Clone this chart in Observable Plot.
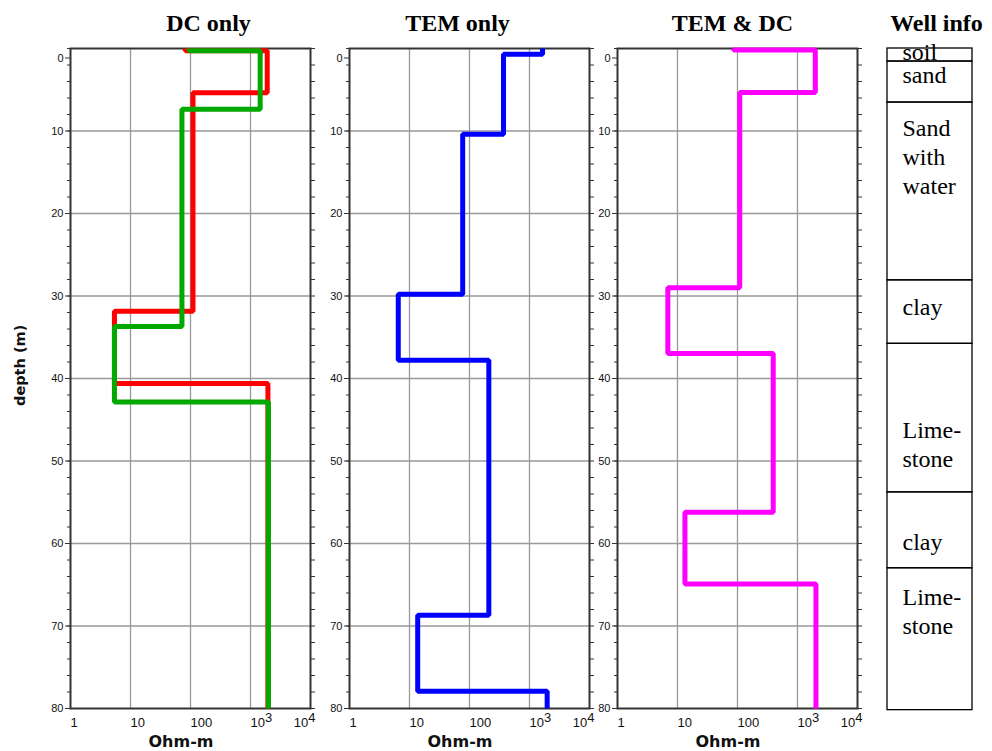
<!DOCTYPE html>
<html><head><meta charset="utf-8">
<script src="https://cdn.jsdelivr.net/npm/d3@7"></script>
<script src="https://cdn.jsdelivr.net/npm/@observablehq/plot@0.6"></script>
<style>
body{margin:0;background:#fff;}
#wrap{position:relative;width:992px;height:751px;overflow:hidden;background:#fff;}
.panel{position:absolute;top:0;}
</style></head><body><div id="wrap"></div>
<script>
// ---------- data ----------
const depthMax = 80;
// DC only – red model (resistivity per layer, Ohm-m; bottom depth of each layer, m)
const dcRedRho = [82, 1900, 110, 5.4, 1950];
const dcRedBottom = [0.27, 5.35, 31.85, 40.6];
// DC only – green model
const dcGreenRho = [95, 1450, 72, 5.4, 1990];
const dcGreenBottom = [0.27, 7.37, 33.7, 42.85];
// TEM only
const temRho = [1650, 369, 77, 6.5, 210, 13.7, 1970];
const temBottom = [0.69, 10.4, 29.8, 37.8, 68.7, 77.9];
// TEM & DC
const jointRho = [86, 1980, 109, 6.9, 394, 13.3, 2030];
const jointBottom = [0.18, 5.33, 29.0, 36.97, 56.2, 64.9];
// Well info
const wellNames = ["soil", "sand", "Sand\nwith\nwater", "clay", "Lime-\nstone", "clay", "Lime-\nstone"];
const wellBottom = [1.58, 6.55, 28.1, 35.8, 53.8, 63.0, 80.2];
const wellLabelDepth = [1.45, 4.24, 17.58, 32.36, 50.67, 60.73, 70.91];
// ticks
const xTicks = [1, 10, 100, 1000, 10000];
const xTickLabels = ["1", "10", "100", "10^3", "10^4"];
const xGrid = [10, 100, 1000];
const yLabelTicks = [10, 20, 30, 40, 50, 60, 70, 80];
const yGrid = [10, 20, 30, 40, 50, 60, 70];
const yMinor = d3.range(0, 81, 2);
const titles = ["DC only", "TEM only", "TEM & DC", "Well info"];

// ---------- helpers ----------
function steps(rho, bottoms) {
  const pts = [];
  let top = 0;
  rho.forEach((r, i) => {
    const b = i < bottoms.length ? bottoms[i] : depthMax;
    pts.push({rho: r, depth: top}, {rho: r, depth: b});
    top = b;
  });
  return pts;
}
const wrap = document.getElementById("wrap");
const H = 751, MT = 48, MB = 43;
const baseStyle = {background: "transparent", overflow: "visible", fontFamily: "Liberation Sans", color: "#111"};

function fixSuperscripts(svg) {
  svg.querySelectorAll("text").forEach(t => {
    const s = t.textContent;
    if (s.includes("^")) {
      const [b, e] = s.split("^");
      t.textContent = b;
      const ts = document.createElementNS("http://www.w3.org/2000/svg", "tspan");
      ts.setAttribute("dy", "-5");
      ts.textContent = e;
      t.appendChild(ts);
      if (e === "4") { t.setAttribute("text-anchor", "end"); t.setAttribute("dx", "5"); }
    }
  });
}

function panel(left, series, title, titleDx, withDepthLabel) {
  const marks = [
    Plot.gridX({ticks: xGrid, stroke: "#999", strokeOpacity: 1, strokeWidth: 1.3}),
    Plot.gridY({ticks: yGrid, stroke: "#999", strokeOpacity: 1, strokeWidth: 1.3}),
    Plot.axisX({ticks: xTicks, tickSize: 0, tickPadding: 9, textAnchor: "start", fontSize: 13, label: null,
      tickFormat: d => xTickLabels[xTicks.indexOf(d)]}),
    Plot.axisY({ticks: yLabelTicks, tickSize: 5, tickPadding: 2, fontSize: 11, label: null, stroke: "#333"}),
    Plot.axisY({ticks: [0], tickSize: 5, tickPadding: 2, fontSize: 11, dy: 9.5, label: null, stroke: "#333"}),
    Plot.axisY({ticks: yMinor, tickSize: 3, tickFormat: () => "", label: null, stroke: "#333"}),
    Plot.axisY({anchor: "right", ticks: yMinor, tickSize: 4, tickFormat: () => "", label: null, stroke: "#333"}),
    Plot.frame({stroke: "#333", strokeWidth: 2}),
    ...series.map(s => Plot.line(steps(s.rho, s.bottom), {x: "rho", y: "depth", stroke: s.color, strokeWidth: 5,
      strokeLinejoin: "miter", strokeLinecap: "butt"})),
    Plot.text([title], {frameAnchor: "top", dy: -18, dx: titleDx, lineAnchor: "bottom",
      fontFamily: "Liberation Serif", fontWeight: "bold", fontSize: 24, fill: "#000"}),
    Plot.text(["Ohm-m"], {frameAnchor: "bottom", dy: 38.7, dx: -9.5, lineAnchor: "bottom",
      fontFamily: "DejaVu Sans", fontWeight: "bold", fontSize: 16, fill: "#111"})
  ];
  if (withDepthLabel) {
    marks.push(Plot.text(["depth (m)"], {frameAnchor: "left", dx: -50, dy: 27.5, rotate: -90,
      fontFamily: "DejaVu Sans", fontWeight: "bold", fontSize: 14.5, fill: "#111"}));
  }
  const chart = Plot.plot({
    width: 330, height: H, marginLeft: 70, marginRight: 20, marginTop: MT, marginBottom: MB,
    style: baseStyle,
    x: {type: "log", domain: [1, 10000], label: null},
    y: {domain: [0, depthMax], reverse: true, label: null},
    marks
  });
  fixSuperscripts(chart);
  const div = document.createElement("div");
  div.className = "panel";
  div.style.left = left + "px";
  div.appendChild(chart);
  wrap.appendChild(div);
}

panel(0, [
  {rho: dcRedRho, bottom: dcRedBottom, color: "#ff0000"},
  {rho: dcGreenRho, bottom: dcGreenBottom, color: "#00a800"}
], titles[0], 18, true);
panel(279, [{rho: temRho, bottom: temBottom, color: "#0000ff"}], titles[1], -12, false);
panel(547, [{rho: jointRho, bottom: jointBottom, color: "#ff00ff"}], titles[2], -5, false);

// Well info column
const layers = wellNames.map((name, i) => ({
  name, top: i === 0 ? 0 : wellBottom[i - 1], bottom: wellBottom[i], labelDepth: wellLabelDepth[i]
}));
const well = Plot.plot({
  width: 125, height: H, marginLeft: 20, marginRight: 20, marginTop: MT, marginBottom: MB,
  style: baseStyle,
  x: {domain: [0, 1], axis: null},
  y: {domain: [0, depthMax], reverse: true, axis: null},
  marks: [
    Plot.rect(layers, {x1: 0, x2: 1, y1: "top", y2: "bottom", fill: "none", stroke: "#000", strokeWidth: 1.3}),
    Plot.text(layers, {x: 0, y: "labelDepth", text: "name", textAnchor: "start", lineAnchor: "bottom", dx: 15,
      lineHeight: 1.2, fontFamily: "Liberation Serif", fontSize: 24, fill: "#000"}),
    Plot.text([titles[3]], {frameAnchor: "top", dy: -18, dx: 6.5, lineAnchor: "bottom",
      fontFamily: "Liberation Serif", fontWeight: "bold", fontSize: 24, fill: "#000"})
  ]
});
const wdiv = document.createElement("div");
wdiv.className = "panel";
wdiv.style.left = "867px";
wdiv.appendChild(well);
wrap.appendChild(wdiv);
</script></body></html>
